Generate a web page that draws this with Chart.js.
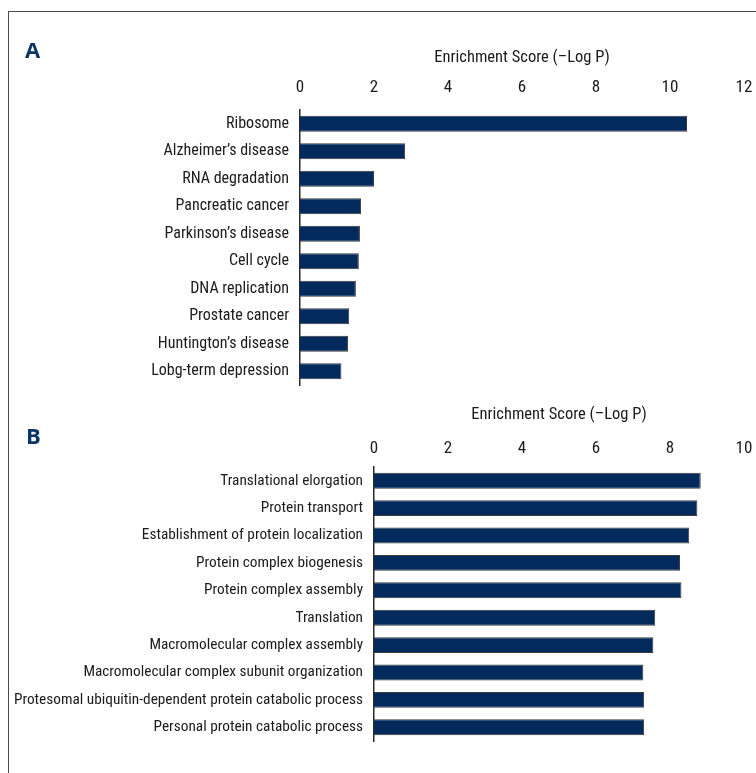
<!DOCTYPE html>
<html>
<head>
<meta charset="utf-8">
<script src="https://cdn.jsdelivr.net/npm/chart.js@4/dist/chart.umd.min.js"></script>
<style>
  html, body { margin: 0; padding: 0; background: #ffffff; }
  #page { position: relative; width: 756px; height: 773px; overflow: hidden; }
  #frame { position: absolute; left: 8px; top: 11px; width: 760px; height: 780px;
           border-left: 1px solid #4a4a4a; border-top: 1px solid #4a4a4a; }
  .panel-letter { position: absolute; font-family: 'Open Sans', sans-serif; font-weight: 700;
                  font-size: 22px; line-height: 22px; color: #0b3567; }
  canvas { position: absolute; left: 0; }
</style>
</head>
<body>
<div id="page">
  <div id="frame"></div>
  <canvas id="chartA" width="756" height="390" style="top:0"></canvas>
  <canvas id="chartB" width="756" height="393" style="top:380px"></canvas>
  <div class="panel-letter" style="left:25px; top:38px">A</div>
  <div class="panel-letter" style="left:26px; top:424px">B</div>
</div>
<script>
// KEGG pathways (panel A)
const pathwayNames = [
  'Ribosome', 'Alzheimer\u2019s disease', 'RNA degradation', 'Pancreatic cancer',
  'Parkinson\u2019s disease', 'Cell cycle', 'DNA replication', 'Prostate cancer',
  'Huntington\u2019s disease', 'Lobg-term depression'
];
const pathwayScores = [10.46, 2.84, 2.0, 1.65, 1.62, 1.59, 1.51, 1.33, 1.30, 1.12];
const pathwayTicks = [0, 2, 4, 6, 8, 10, 12];

// GO biological processes (panel B)
const processNames = [
  'Translational elorgation', 'Protein transport', 'Establishment of protein localization',
  'Protein complex biogenesis', 'Protein complex assembly', 'Translation',
  'Macromolecular complex assembly', 'Macromolecular complex subunit organization',
  'Protesomal ubiquitin-dependent protein catabolic process', 'Personal protein catabolic process'
];
const processScores = [8.83, 8.74, 8.52, 8.27, 8.31, 7.60, 7.55, 7.28, 7.30, 7.30];
const processTicks = [0, 2, 4, 6, 8, 10];

const axisTitle = 'Enrichment Score (\u2013Log P)';

const BAR_FILL = '#022a5c';
const BAR_EDGE = '#3d3d3d';
const TEXT = '#1c1a1b';
const FONT = "'Roboto Condensed', 'Liberation Sans', sans-serif";

function makeChart(canvasId, names, scores, ticks, geom) {
  return new Chart(document.getElementById(canvasId), {
    type: 'bar',
    data: {
      labels: names,
      datasets: [{
        data: scores,
        backgroundColor: BAR_FILL,
        borderColor: BAR_EDGE,
        borderWidth: { top: 1, right: 1, bottom: 1, left: 0 },
        borderSkipped: 'start',
        barPercentage: 0.58,
        categoryPercentage: 1.0
      }]
    },
    options: {
      indexAxis: 'y',
      responsive: false,
      animation: false,
      events: [],
      layout: { padding: { left: 0, top: 0, right: geom.padRight, bottom: geom.padBottom } },
      plugins: { legend: { display: false }, tooltip: { enabled: false } },
      scales: {
        x: {
          position: 'top',
          min: ticks[0],
          max: ticks[ticks.length - 1],
          afterBuildTicks: (scale) => { scale.ticks = ticks.map(v => ({ value: v })); },
          afterFit: (scale) => {
            scale.height = geom.xHeight;
            scale.paddingLeft = 0;
            scale.paddingRight = 0;
          },
          grid: { display: false, drawTicks: false },
          border: { display: false },
          ticks: { color: TEXT, font: { family: FONT, size: 17 }, padding: geom.tickPad },
          title: {
            display: true,
            text: axisTitle,
            color: TEXT,
            font: { family: FONT, size: 16.5 },
            padding: { top: geom.titlePad, bottom: 0 }
          }
        },
        y: {
          afterFit: (scale) => {
            scale.width = geom.yWidth;
            scale.paddingTop = 0;
            scale.paddingBottom = 0;
          },
          grid: { display: false, drawTicks: false },
          border: { display: true, color: '#2a2a2a', width: 1.5 },
          ticks: { color: TEXT, font: { family: FONT, size: geom.labelSize }, padding: 11 }
        }
      }
    }
  });
}

makeChart('chartA', pathwayNames, pathwayScores, pathwayTicks,
  { padRight: 12, padBottom: 5, xHeight: 110, yWidth: 300, tickPad: 12, titlePad: 48, labelSize: 16 });
makeChart('chartB', processNames, processScores, processTicks,
  { padRight: 12, padBottom: 32, xHeight: 87, yWidth: 374, tickPad: 8, titlePad: 25, labelSize: 15.3 });
</script>
</body>
</html>
